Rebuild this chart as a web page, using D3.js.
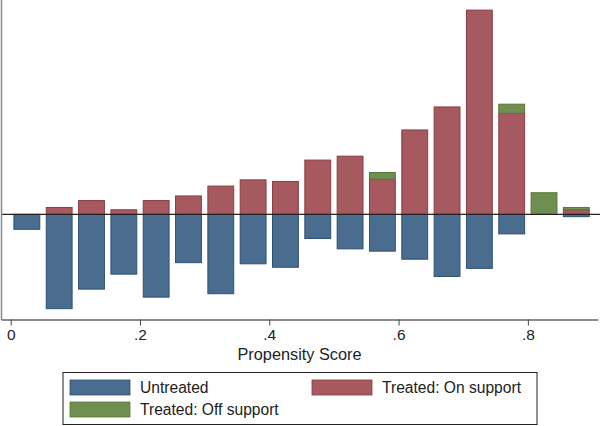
<!DOCTYPE html>
<html>
<head>
<meta charset="utf-8">
<script src="https://cdn.jsdelivr.net/npm/d3@7"></script>
<style>
  html, body { margin: 0; padding: 0; background: #fff; }
  text { font-family: "Liberation Sans", Arial, sans-serif; }
</style>
</head>
<body>
<svg id="chart" width="600" height="426"></svg>
<script>
// Bin centres (propensity score), bin width 0.05
const binCenters = [0.025, 0.075, 0.125, 0.175, 0.225, 0.275, 0.325, 0.375, 0.425,
                    0.475, 0.525, 0.575, 0.625, 0.675, 0.725, 0.775, 0.825, 0.875];
// Frequencies (untreated drawn downward)
const untreated  = [6.5, 41, 32.5, 26, 36, 21, 34.5, 21.5, 23, 10.5, 15, 16, 19.5, 27, 23.5, 8.5, 0, 1];
const treatedOn  = [0, 3, 6, 2, 6, 8, 12.3, 15, 14.3, 23.6, 25.3, 15.3, 36.7, 46.7, 88.8, 43.9, 0, 2];
const treatedOff = [0, 0, 0, 0, 0, 0, 0, 0, 0, 0, 0, 2.9, 0, 0, 0, 4, 9.4, 1];
const xTicks = [0, 0.2, 0.4, 0.6, 0.8];
const xTickLabels = ["0", ".2", ".4", ".6", ".8"];
const legendLabels = ["Untreated", "Treated: On support", "Treated: Off support"];
const barWidth = 0.04;

const colors = {
  untreated: {fill: "#4a6d8f", stroke: "#2e5074"},
  on:        {fill: "#a65a5f", stroke: "#8a3d44"},
  off:       {fill: "#6e8f4f", stroke: "#56773a"}
};

const svg = d3.select("#chart");
const x = d3.scaleLinear().domain([-0.015, 0.9085]).range([1, 598]);
const y = d3.scaleLinear().domain([-45.5, 93.2]).range([319, 0]);

const bars = svg.append("g");
binCenters.forEach((c, i) => {
  const x0 = x(c - barWidth / 2), w = x(c + barWidth / 2) - x0;
  if (untreated[i] > 0) {
    bars.append("rect").attr("x", x0).attr("y", y(0))
      .attr("width", w).attr("height", y(-untreated[i]) - y(0))
      .attr("fill", colors.untreated.fill).attr("stroke", colors.untreated.stroke).attr("stroke-width", 1);
  }
  if (treatedOn[i] > 0) {
    bars.append("rect").attr("x", x0).attr("y", y(treatedOn[i]))
      .attr("width", w).attr("height", y(0) - y(treatedOn[i]))
      .attr("fill", colors.on.fill).attr("stroke", colors.on.stroke).attr("stroke-width", 1);
  }
  if (treatedOff[i] > 0) {
    const base = treatedOn[i];
    bars.append("rect").attr("x", x0).attr("y", y(base + treatedOff[i]))
      .attr("width", w).attr("height", y(base) - y(base + treatedOff[i]))
      .attr("fill", colors.off.fill).attr("stroke", colors.off.stroke).attr("stroke-width", 1);
  }
});

// zero line
svg.append("line").attr("x1", 1).attr("x2", 600).attr("y1", y(0)).attr("y2", y(0))
  .attr("stroke", "#222").attr("stroke-width", 1.2);

// left axis line
svg.append("line").attr("x1", 1.5).attr("x2", 1.5).attr("y1", 0).attr("y2", 320)
  .attr("stroke", "#8a8a8a").attr("stroke-width", 1.5);

// bottom axis
const xAxis = d3.axisBottom(x).tickValues(xTicks)
  .tickFormat((d, i) => xTickLabels[i]).tickSize(6).tickSizeOuter(0).tickPadding(3);
const gx = svg.append("g").attr("transform", "translate(0,319.5)").call(xAxis);
gx.select(".domain").attr("stroke", "#666").attr("stroke-width", 1.5);
gx.selectAll(".tick line").attr("stroke", "#444");
gx.selectAll(".tick text").attr("font-size", 15.5).attr("fill", "#222")
  .attr("font-family", "'Liberation Sans', Arial, sans-serif");

svg.append("text").attr("x", 299.5).attr("y", 360).attr("text-anchor", "middle")
  .attr("font-size", 16.3).attr("fill", "#222").text("Propensity Score");

// legend
const lg = svg.append("g");
lg.append("rect").attr("x", 63).attr("y", 372.5).attr("width", 474).attr("height", 52)
  .attr("fill", "#fff").attr("stroke", "#222").attr("stroke-width", 1);
const items = [
  {label: legendLabels[0], c: colors.untreated, sx: 70, sy: 380},
  {label: legendLabels[1], c: colors.on, sx: 312, sy: 380},
  {label: legendLabels[2], c: colors.off, sx: 70, sy: 402}
];
items.forEach(it => {
  lg.append("rect").attr("x", it.sx).attr("y", it.sy).attr("width", 60).attr("height", 15)
    .attr("fill", it.c.fill).attr("stroke", it.c.stroke).attr("stroke-width", 0.8);
  lg.append("text").attr("x", it.sx + 70).attr("y", it.sy + 13).attr("font-size", 15.6)
    .attr("fill", "#222").text(it.label);
});
</script>
</body>
</html>
